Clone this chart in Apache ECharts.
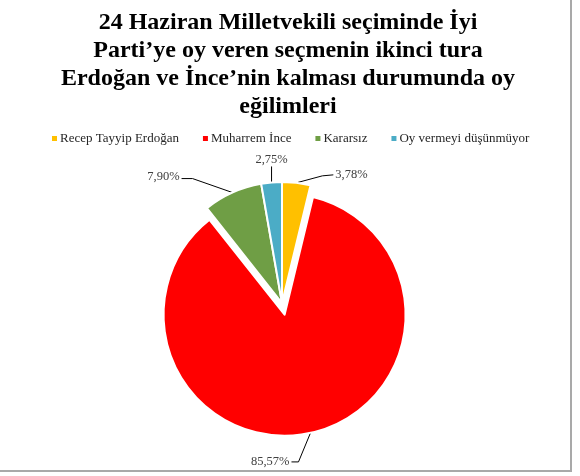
<!DOCTYPE html>
<html><head><meta charset="utf-8">
<script src="https://cdn.jsdelivr.net/npm/echarts@6/dist/echarts.min.js"></script>
<style>
html,body{margin:0;padding:0;background:#fff;}
#frame{position:absolute;left:0;top:0;width:570px;height:470px;border-right:2px solid #a9a9a9;border-bottom:2px solid #a9a9a9;}
#c{width:580px;height:476px;position:absolute;left:0;top:0;}
</style></head>
<body>
<div id="frame"></div>
<div id="c"></div>
<script>
const titleLines = ["24 Haziran Milletvekili seçiminde İyi","Parti’ye oy veren seçmenin ikinci tura","Erdoğan ve İnce’nin kalması durumunda oy","eğilimleri"];
const categories = ["Recep Tayyip Erdoğan","Muharrem İnce","Kararsız","Oy vermeyi düşünmüyor"];
const values = [3.78, 85.57, 7.90, 2.75];
const colors = ["#ffc000","#ff0000","#6f9e45","#4bacc6"];
const explodedIndex = 1;

const chart = echarts.init(document.getElementById('c'));
const fontFam = '"Liberation Serif", "Times New Roman", serif';

const CX = 282, CY = 303, R = 121, OFFSET = 12;
// direction of the exploded slice, from the data
const total = values.reduce((a,b)=>a+b,0);
const before = values.slice(0,explodedIndex).reduce((a,b)=>a+b,0);
const midAng = (before + values[explodedIndex]/2)/total*2*Math.PI;
const ecx = CX + OFFSET*Math.sin(midAng), ecy = CY - OFFSET*Math.cos(midAng);

// label line bends (relative to the edge point the library computes)
function layoutLabel(p){
  const pts = p.labelLinePoints;
  if(!pts) return {};
  const x0 = pts[0][0], y0 = pts[0][1];
  switch(p.dataIndex){
    case 0: return {x:x0+39,y:y0-8,align:'left',verticalAlign:'middle',
      labelLinePoints:[[x0,y0],[x0+26,y0-7],[x0+37,y0-8]]};
    case 1: return {x:x0-21,y:y0+29,align:'right',verticalAlign:'middle',
      labelLinePoints:[[x0,y0],[x0-12,y0+29],[x0-19,y0+29]]};
    case 2: return {x:x0-53,y:y0-16,align:'right',verticalAlign:'middle',
      labelLinePoints:[[x0,y0],[x0-40,y0-14],[x0-51,y0-14]]};
    case 3: return {x:x0,y:y0-23,align:'center',verticalAlign:'middle',
      labelLinePoints:[[x0,y0],[x0,y0-16]]};
  }
  return {};
}

const hidden = {color:'rgba(0,0,0,0)',borderWidth:0};
function makeData(showExploded){
  return categories.map((n,i)=>{
    const visible = (i===explodedIndex) === showExploded;
    return visible
      ? {name:n,value:values[i],itemStyle:{color:colors[i]}}
      : {name:'',value:values[i],itemStyle:hidden,label:{show:false},labelLine:{show:false}};
  });
}

const base = {
  type:'pie',
  radius:R,
  startAngle:90,
  clockwise:true,
  silent:true,
  avoidLabelOverlap:false,
  itemStyle:{borderColor:'#fff',borderWidth:2},
  emphasis:{disabled:true},
  label:{
    formatter:(p)=>p.value.toFixed(2).replace('.',',')+'%',
    fontFamily:fontFam,fontSize:12.5,color:'#404040'
  },
  labelLine:{length:10,length2:25,lineStyle:{color:'#000',width:1}},
  labelLayout: layoutLabel
};

chart.setOption({
  animation:false,
  backgroundColor:'transparent',
  title:{
    text: titleLines.join('\n'),
    left: 283, top: 4, textAlign:'center',
    textStyle:{fontFamily:fontFam,fontWeight:'bold',fontSize:24,lineHeight:28,color:'#000'}
  },
  legend:{
    top: 127, left:45, width:540,
    icon:'rect', itemWidth:7, itemHeight:7, itemGap:22,
    textStyle:{fontFamily:fontFam,fontSize:13,color:'#262626',padding:[0,0,0,-3]},
    data: categories,
    selectedMode:false
  },
  series:[
    Object.assign({}, base, {name:'exploded', center:[ecx,ecy], data:makeData(true)}),
    Object.assign({}, base, {name:'main', center:[CX,CY], data:makeData(false)})
  ]
});
</script>
</body></html>
